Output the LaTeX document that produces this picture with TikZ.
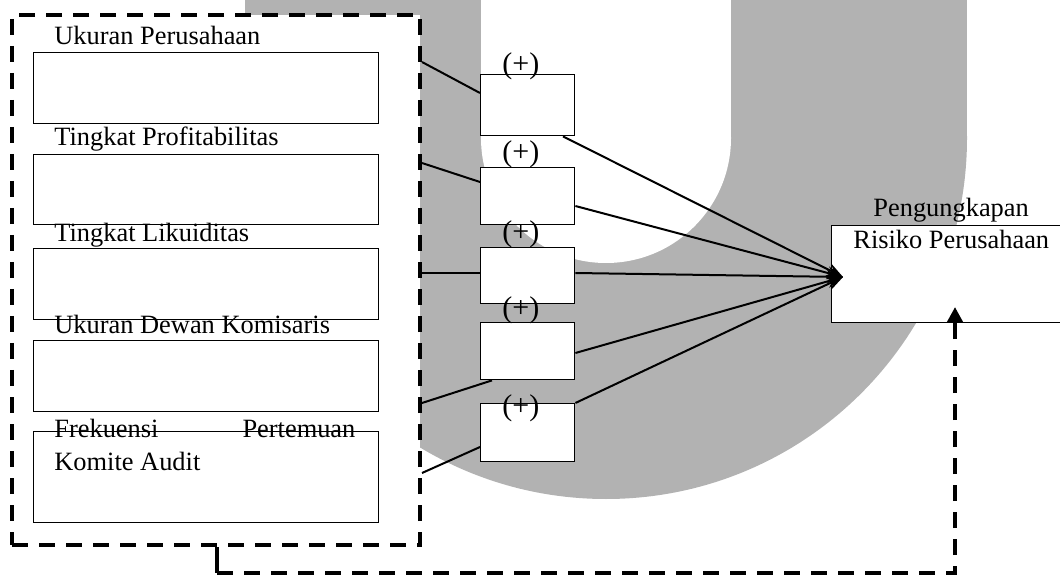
\documentclass[tikz,border=0pt]{standalone}
\usepackage{fontspec}
\setmainfont{Liberation Serif}
\usetikzlibrary{arrows.meta,calc}
\definecolor{wmgray}{HTML}{B2B2B2}
\begin{document}
\begin{tikzpicture}[x=0.5pt,y=-0.5pt,
  every node/.style={font=\fontsize{13.2pt}{16.5pt}\selectfont},
  ivbox/.style={draw, fill=white, line width=0.7pt, anchor=north west, inner sep=0, minimum width=172.5pt},
  pbox/.style={draw, fill=white, line width=0.7pt, anchor=north west, inner sep=0, minimum width=47pt},
  lbl/.style={anchor=base west, inner sep=0},
  sign/.style={anchor=base west, inner sep=0, font=\fontsize{15pt}{18pt}\selectfont},
  conn/.style={line width=1pt},
  arr/.style={line width=1pt, -{Stealth[length=8pt,width=6.5pt]}},
  grpline/.style={line width=2pt, dash pattern=on 8pt off 5.5pt}]
\useasboundingbox (0,0) rectangle (1060,577);
\clip (0,0) rectangle (1060,577);

% background emblem
\fill[wmgray] (245,-10) rectangle (967,138);
\fill[wmgray] (606,138) circle (361);
\fill[white] (481,-10) rectangle (731,138);
\fill[white] (606,138) circle (125);

% group of independent variables
\node[grpline, draw, fill=white, anchor=north west, inner sep=0,
      minimum width=204pt, minimum height=265pt] (grp) at (10,13) {};

\node[ivbox, minimum height=35.5pt] (v1) at (33,52) {};
\node[ivbox, minimum height=35pt]   (v2) at (33,154) {};
\node[ivbox, minimum height=35.5pt] (v3) at (33,248) {};
\node[ivbox, minimum height=35.5pt] (v4) at (33,340) {};
\node[ivbox, minimum height=45.5pt] (v5) at (33,431) {};

\node[lbl] (t1) at (54,45)  {Ukuran Perusahaan};
\node[lbl] (t2) at (54,146) {Tingkat Profitabilitas};
\node[lbl] (t3) at (54,242) {Tingkat Likuiditas};
\node[lbl] (t4) at (54,333) {Ukuran Dewan Komisaris};
\node[lbl] (t5) at (54,437) {\makebox[150.5pt][s]{Frekuensi Pertemuan}};
\node[lbl] (t6) at (54,470) {Komite Audit};

% hypothesis boxes
\node[pbox, minimum height=30.5pt] (s1) at (480,74) {};
\node[pbox, minimum height=28.5pt] (s2) at (480,167) {};
\node[pbox, minimum height=28pt]   (s3) at (480,247) {};
\node[pbox, minimum height=28.5pt] (s4) at (480,322) {};
\node[pbox, minimum height=29pt]   (s5) at (480,403) {};

\node[sign] (p1) at (502,73.5) {(+)};
\node[sign] (p2) at (502,162)  {(+)};
\node[sign] (p3) at (502,242)  {(+)};
\node[sign] (p4) at (502,318)  {(+)};
\node[sign] (p5) at (502,415)  {(+)};

% dependent variable
\node[draw, fill=white, line width=0.7pt, anchor=north west, inner sep=0,
      minimum width=122pt, minimum height=48.5pt] (dep) at (831,225) {};
\node[lbl] (d1) at (873,217) {Pengungkapan};
\node[lbl] (d2) at (853,249) {Risiko Perusahaan};

% links from the group to the hypothesis boxes
\draw[conn] (grp.east |- 0,62)  -- (s1.west |- 0,93);
\draw[conn] (grp.east |- 0,163) -- (s2.west |- 0,182);
\draw[conn] (grp.east |- 0,273) -- (s3.west |- 0,273);
\draw[conn] (grp.east |- 0,403) -- (s4.south -| 492,0);
\draw[conn] (grp.east |- 0,473) -- (s5.west |- 0,447);

% arrows into the dependent variable
\coordinate (tip) at (843,277);
\draw[arr] (s1.south -| 563,0) -- (tip);
\draw[arr] (s2.east |- 0,206) -- (tip);
\draw[arr] (s3.east |- 0,273) -- (tip);
\draw[arr] (s4.east |- 0,353) -- (tip);
\draw[arr] (s5.north east) -- (tip);

% joint effect
\coordinate (fb1) at (217,573);
\coordinate (fbtip) at (955,307);
\draw[line width=2pt] (grp.south -| fb1) -- (fb1);
\draw[grpline, -{Triangle[length=7.5pt,width=7.5pt]}] (fb1) -| (fbtip);
\end{tikzpicture}
\end{document}
